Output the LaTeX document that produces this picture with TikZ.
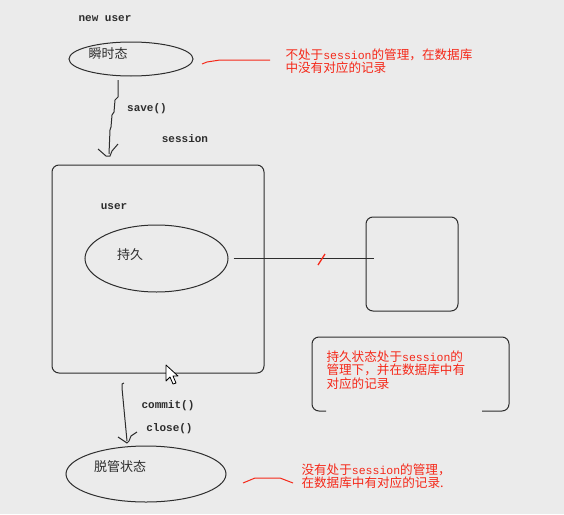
\documentclass[tikz,border=0pt]{standalone}
\usepackage{fontspec}
\newfontfamily\cjk{Noto Sans CJK SC}
\newfontfamily\mono{Liberation Mono}
\usetikzlibrary{shapes.geometric}
\definecolor{bg}{RGB}{235,235,235}
\definecolor{ink}{RGB}{45,45,45}
\definecolor{redink}{RGB}{245,40,25}
\newcommand{\ses}{{\mono\fontsize{11.5}{12}\selectfont session}}
\begin{document}
\begin{tikzpicture}[x=1pt,y=-1pt,line width=1pt,
  lbl/.style={font=\mono\bfseries\fontsize{11}{12}\selectfont,text=ink,inner sep=0pt},
  zh/.style={font=\cjk\fontsize{13}{13}\selectfont,text=ink,inner sep=0pt},
  note/.style={font=\cjk\fontsize{12.6}{13}\selectfont,text=redink,inner sep=0pt,anchor=base west},
  state/.style={ellipse,draw=ink,inner sep=0pt},
  box/.style={draw=ink,rounded corners=7pt,inner sep=0pt},
  wire/.style={draw=ink,line width=1pt},
  redwire/.style={draw=redink,line width=1pt}]
\fill[bg] (0,0) rectangle (564,514);
\useasboundingbox (0,0) rectangle (564,514);

% top: transient state
\node[lbl] (newuser) at (105,19) {new user};
\node[state,minimum width=124pt,minimum height=34pt] (e1) at (131,59) {};
\node[zh] (t1) at (108,54) {瞬时态};
\coordinate (r1a) at (202,64);
\coordinate (r1b) at (270,60);
\draw[redwire] (r1a) -- (207,62) -- (220,60) -- (r1b);
\node[note] (n1a) at (285,59) {不处于\ses 的管理，在数据库};
\node[note] (n1b) at (285,72.5) {中没有对应的记录};

% save arrow
\coordinate (a1s) at (118,80);
\coordinate (a1t) at (109,154);
\draw[wire] (a1s) -- (118,97) -- (115,100) -- (114,112) -- (112,115) -- (111,127) -- (110,130) -- (a1t);
\draw[wire] (98,149) -- (106,156) -- (110,156) -- (112,151) -- (118,144);
\node[lbl] (save) at (147,109) {save()};
\node[lbl] (session) at (185,139) {session};

% session box
\node[box,minimum width=212pt,minimum height=208pt] (big) at (158,269) {};
\node[lbl] (user) at (114,207) {user};
\node[state,minimum width=143pt,minimum height=67pt] (e2) at (156.5,258.5) {};
\node[zh] (t2) at (130,255) {持久};

% database box
\node[box,minimum width=92pt,minimum height=94pt] (db) at (412,264) {};
\coordinate (lend) at (374,258.5);
\draw[wire] (e2.east) ++(5,0) -- (lend);
\draw[redink,line width=1.3pt] (318,265) -- (325,254);

% note box with gap at the bottom
\draw[ink,rounded corners=7pt] (326,411) -| (312,337) -| (509,411) -- (482,411);
\node[note] (n2a) at (326,361) {持久状态处于\ses 的};
\node[note] (n2b) at (326,374.5) {管理下，并在数据库中有};
\node[note] (n2c) at (326,388) {对应的记录};

% mouse cursor
\draw[black,fill=white,line width=0.8pt,line join=round] (166,365) -- (166,381) -- (170,377) -- (173,384) -- (176,383) -- (173,376) -- (178,376) -- cycle;

% commit / close arrow
\coordinate (a2s) at (124,383);
\coordinate (a2t) at (127,441);
\draw[wire] (a2s) -- (122,384) -- (122,388) -- (a2t);
\draw[wire] (118,437) -- (127,443) -- (129,441) -- (131,436) -- (137,432);
\node[lbl] (commit) at (168,406) {commit()};
\node[lbl] (close) at (169.5,429) {close()};

% detached state
\node[state,minimum width=160pt,minimum height=56pt] (e3) at (146,474) {};
\node[zh] (t3) at (120,467) {脱管状态};
\coordinate (r2a) at (243,483);
\coordinate (r2b) at (293,483);
\draw[redwire] (r2a) -- (255,478) -- (280,478) -- (r2b);
\node[note] (n3a) at (301,474) {没有处于\ses 的管理，};
\node[note] (n3b) at (301,487.5) {在数据库中有对应的记录.};
\end{tikzpicture}
\end{document}
